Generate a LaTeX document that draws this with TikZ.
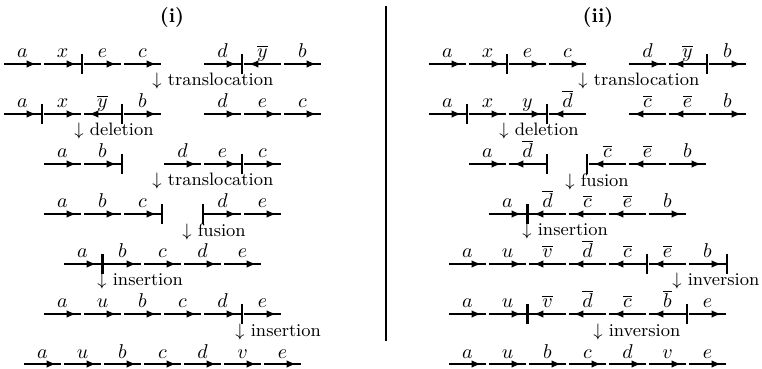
\documentclass[tikz,border=0pt]{standalone}
\usetikzlibrary{arrows.meta,decorations.markings}

\tikzset{
    fwd/.style={
        line width=1.1pt,
        postaction={decorate},
        decoration={markings, mark=at position 0.88 with {\arrow{Latex[length=5pt,width=3.8pt]}}},
    },
    rev/.style={
        line width=1.1pt,
        postaction={decorate},
        decoration={markings, mark=at position 0.12 with {\arrowreversed{Latex[length=5pt,width=3.8pt]}}},
    },
    gene/.style={
        midway,
        anchor=base,
        yshift=3pt,
        inner sep=0,
    },
    cut/.style={line width=1pt},
    hole/.style={line width=1.7pt},
    event/.style={
        anchor=west,
        font=\small,
        inner sep=0,
    },
    panel title/.style={font=\bfseries},
}
\def\seglen{0.925}

\begin{document}
\begin{tikzpicture}[x=20pt,y=25pt]
    \useasboundingbox (0,0) rectangle (19.05,-7.38);

    % titles and divider
    \node[panel title] (ti) at (4.3,-0.34) {(i)};
    \node[panel title] (tii) at (14.95,-0.34) {(ii)};
    \draw[line width=1pt] (9.65,-0.12) -- (9.65,-6.82);

    % (i) genes
    \foreach \row [count=\n from 0] in {
        {0/a/fwd, 1/x/fwd, 2/e/fwd, 3/c/fwd, 5/d/fwd, 6/{\overline{y}}/rev, 7/b/fwd},
        {0/a/fwd, 1/x/fwd, 2/{\overline{y}}/rev, 3/b/fwd, 5/d/fwd, 6/e/fwd, 7/c/fwd},
        {1/a/fwd, 2/b/fwd, 4/d/fwd, 5/e/fwd, 6/c/fwd},
        {1/a/fwd, 2/b/fwd, 3/c/fwd, 5/d/fwd, 6/e/fwd},
        {1.5/a/fwd, 2.5/b/fwd, 3.5/c/fwd, 4.5/d/fwd, 5.5/e/fwd},
        {1/a/fwd, 2/u/fwd, 3/b/fwd, 4/c/fwd, 5/d/fwd, 6/e/fwd},
        {0.5/a/fwd, 1.5/u/fwd, 2.5/b/fwd, 3.5/c/fwd, 4.5/d/fwd, 5.5/v/fwd, 6.5/e/fwd}%
    } {
        \foreach \s/\g/\d [count=\m] in \row {
            \draw[\d] (0.1+\s,-1.28-\n) -- ++(\seglen,0) node[gene] (L\n-\m) {$\g$};
        }
    }

    % (i) breakpoints
    \foreach \s/\n/\w in {
        1.96/0/cut, 5.96/0/cut,
        0.96/1/cut, 2.96/1/cut,
        2.95/2/cut, 5.96/2/cut,
        3.95/3/cut, 4.97/3/cut,
        2.46/4/hole,
        5.96/5/cut%
    } {
        \draw[\w] (0.1+\s,-1.08-\n) -- ++(0,-0.4);
    }

    % (i) events
    \foreach \x/\n/\e in {
        3.825/0/translocation,
        1.875/1/deletion,
        3.825/2/translocation,
        4.575/3/fusion,
        2.45/4/insertion,
        5.9/5/insertion%
    } {
        \node[event] (Lev\n) at (0.1+\x-0.125,-1.63-\n) {$\downarrow$ \e};
    }

    % (ii) genes
    \foreach \row [count=\n from 0] in {
        {0/a/fwd, 1/x/fwd, 2/e/fwd, 3/c/fwd, 5/d/fwd, 6/{\overline{y}}/rev, 7/b/fwd},
        {0/a/fwd, 1/x/fwd, 2/y/fwd, 3/{\overline{d}}/rev, 5/{\overline{c}}/rev, 6/{\overline{e}}/rev, 7/b/fwd},
        {1/a/fwd, 2/{\overline{d}}/rev, 4/{\overline{c}}/rev, 5/{\overline{e}}/rev, 6/b/fwd},
        {1.5/a/fwd, 2.5/{\overline{d}}/rev, 3.5/{\overline{c}}/rev, 4.5/{\overline{e}}/rev, 5.5/b/fwd},
        {0.5/a/fwd, 1.5/u/fwd, 2.5/{\overline{v}}/rev, 3.5/{\overline{d}}/rev, 4.5/{\overline{c}}/rev, 5.5/{\overline{e}}/rev, 6.5/b/fwd},
        {0.5/a/fwd, 1.5/u/fwd, 2.5/{\overline{v}}/rev, 3.5/{\overline{d}}/rev, 4.5/{\overline{c}}/rev, 5.5/{\overline{b}}/rev, 6.5/e/fwd},
        {0.5/a/fwd, 1.5/u/fwd, 2.5/b/fwd, 3.5/c/fwd, 4.5/d/fwd, 5.5/v/fwd, 6.5/e/fwd}%
    } {
        \foreach \s/\g/\d [count=\m] in \row {
            \draw[\d] (10.725+\s,-1.28-\n) -- ++(\seglen,0) node[gene] (R\n-\m) {$\g$};
        }
    }

    % (ii) breakpoints
    \foreach \s/\n/\w in {
        1.96/0/cut, 6.96/0/cut,
        0.96/1/cut, 2.96/1/cut,
        2.96/2/cut, 3.96/2/cut,
        2.46/3/hole,
        5.46/4/cut, 7.45/4/cut,
        2.46/5/hole, 6.46/5/cut%
    } {
        \draw[\w] (10.725+\s,-1.08-\n) -- ++(0,-0.4);
    }

    % (ii) events
    \foreach \x/\n/\e in {
        3.85/0/translocation,
        1.875/1/deletion,
        3.525/2/fusion,
        2.45/3/insertion,
        6.2/4/inversion,
        4.225/5/inversion%
    } {
        \node[event] (Rev\n) at (10.725+\x-0.125,-1.63-\n) {$\downarrow$ \e};
    }

\end{tikzpicture}
\end{document}
